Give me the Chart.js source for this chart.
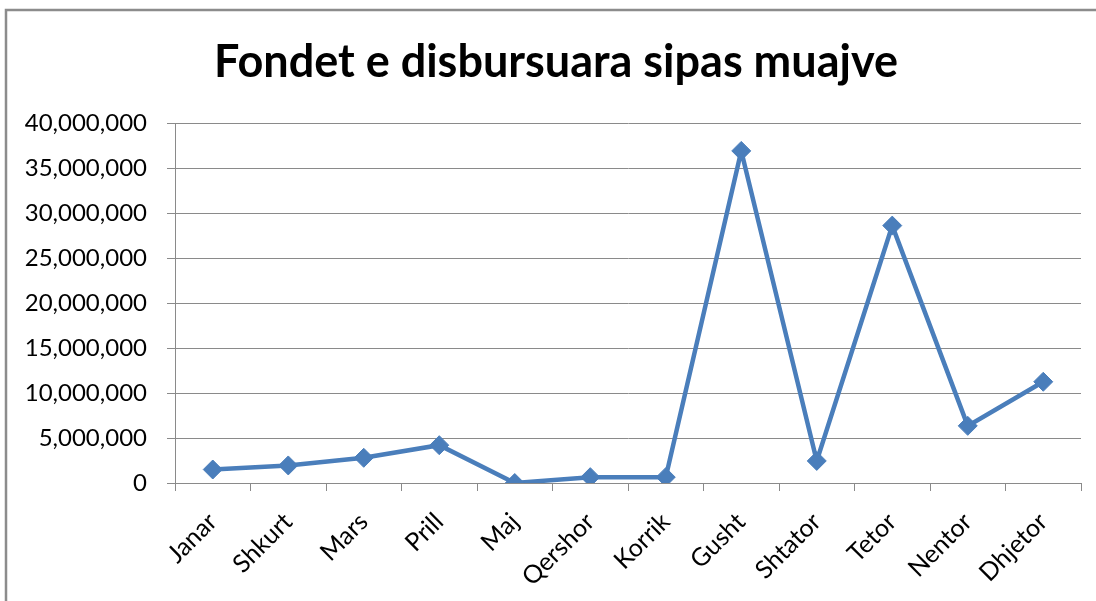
<!DOCTYPE html>
<html>
<head>
<meta charset="utf-8">
<script src="https://cdn.jsdelivr.net/npm/chart.js@4/dist/chart.umd.min.js"></script>
<style>
  html, body { margin: 0; padding: 0; background: #fff; }
  canvas { display: block; }
</style>
</head>
<body>
<canvas id="myChart" width="1096" height="601"></canvas>
<script>
// data
const months = ['Janar', 'Shkurt', 'Mars', 'Prill', 'Maj', 'Qershor', 'Korrik', 'Gusht', 'Shtator', 'Tetor', 'Nentor', 'Dhjetor'];
const funds = [1500000, 1950000, 2800000, 4200000, 0, 650000, 650000, 36900000, 2450000, 28600000, 6350000, 11250000];
const yMin = 0;
const yMax = 40000000;
const yStep = 5000000;

const gridGray = '#8a8a8a';
const blue = '#4a7ebb';

// the thin frame round the whole chart, and the title nudged right like in excel
const framePlugin = {
    id: 'frame',
    afterLayout(chart) {
        chart.titleBlock.left = 31;
    },
    beforeDraw(chart) {
        const ctx = chart.ctx;
        ctx.save();
        ctx.strokeStyle = '#8c8c8c';
        ctx.lineWidth = 2.5;
        ctx.strokeRect(6, 10, 1200, 700);
        ctx.restore();
    }
};

const ctx = document.getElementById('myChart').getContext('2d');
const fundsChart = new Chart(ctx, {
    type: 'line',
    data: {
        labels: months,
        datasets: [{
            label: 'Fondet',
            data: funds,
            borderColor: blue,
            backgroundColor: blue,
            borderWidth: 4.5,
            pointStyle: 'rectRot',
            pointRadius: 9.5,
            pointHoverRadius: 9.5,
            pointBackgroundColor: blue,
            pointBorderColor: blue,
            pointBorderWidth: 1,
            tension: 0
        }]
    },
    options: {
        responsive: false,
        animation: false,
        layout: {
            padding: { top: 0, right: 15, bottom: 0, left: 0 }
        },
        plugins: {
            legend: { display: false },
            tooltip: { enabled: false },
            title: {
                display: true,
                text: 'Fondet e disbursuara sipas muajve',
                color: '#000',
                font: { family: 'Lato', size: 45, weight: 'bold' },
                padding: { top: 35, bottom: 34 }
            }
        },
        scales: {
            x: {
                offset: true,
                grid: {
                    offset: true,
                    drawOnChartArea: false,
                    drawTicks: true,
                    tickLength: 8,
                    color: gridGray
                },
                border: { color: gridGray, width: 1 },
                ticks: {
                    color: '#000',
                    font: { family: 'Lato', size: 25 },
                    minRotation: 45,
                    maxRotation: 45,
                    padding: 16,
                    autoSkip: false
                },
                afterFit(scale) { scale.height = 118; }
            },
            y: {
                min: yMin,
                max: yMax,
                grid: {
                    color: gridGray,
                    tickLength: 8,
                    lineWidth: 1
                },
                border: { color: gridGray, width: 1 },
                ticks: {
                    stepSize: yStep,
                    color: '#000',
                    font: { family: 'Lato', size: 24 },
                    padding: 20,
                    callback: (v) => v.toLocaleString('en-US')
                },
                afterFit(scale) { scale.width = 175; }
            }
        }
    },
    plugins: [framePlugin]
});
</script>
</body>
</html>
